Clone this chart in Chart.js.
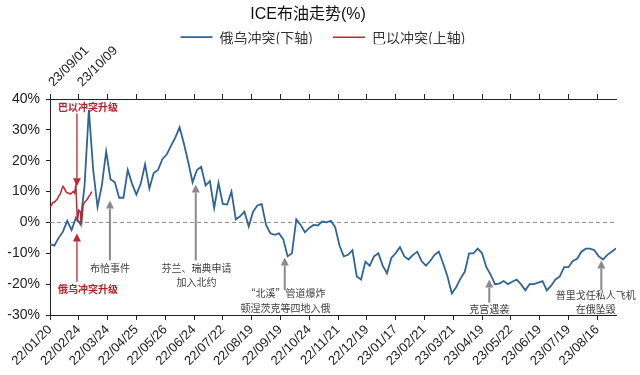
<!DOCTYPE html>
<html>
<head>
<meta charset="utf-8">
<script src="https://cdn.jsdelivr.net/npm/chart.js@4.4.1/dist/chart.umd.min.js"></script>
<style>
  html, body { margin: 0; padding: 0; background: #fff; }
  #wrap { width: 640px; height: 375px; }
</style>
</head>
<body>
<div id="wrap"><canvas id="oilChart"></canvas></div>
<script>
// 底部刻度：俄乌冲突时间轴，每20个交易日一格
const bottomLabels = ['22/01/20', '22/02/24', '22/03/24', '22/04/25', '22/05/26', '22/06/24', '22/07/22',
  '22/08/19', '22/09/19', '22/10/24', '22/11/21', '22/12/19', '23/01/17', '23/02/21', '23/03/21',
  '23/04/19', '23/05/22', '23/06/19', '23/07/19', '23/08/16'];
// 顶部刻度：巴以冲突时间轴
const topLabels = ['23/09/01', '23/10/09'];
const tickEvery = 20;
const lastIndex = 393;

// 俄乌冲突 ICE布油涨跌幅(%)，每3个交易日取一个点
const ruUaStep = 3;
const ruUaValues = [
  -7, -7.5, -5, -3, 0.5, -2.5, 1.5, -0.5, 12, 36.5,
  17, 5, 12, 23, 14, 13, 8, 8, 17, 12.5,
  9, 12.5, 18.8, 11, 16, 17, 20.5, 22, 24.8, 27.5,
  30.8, 25.5, 19.5, 13, 17, 18, 12, 13.4, 4.7, 12.8,
  6, 5.8, 10, 1, 2, 3.5, -1.3, 3.5, 5.5, 6,
  -0.8, -3.5, -4, -3.5, -5.5, -11, -10, 1, -0.8, -3.2,
  -1.8, -0.8, -1, 0.3, 0, 0.5, -1.5, -7.5, -11, -10.5,
  -9, -17.5, -18.5, -12.7, -14, -11, -10, -14, -16.5, -11.5,
  -10, -8, -11, -12, -10.5, -9.5, -12.5, -14, -12.5, -10.5,
  -9.5, -13.3, -17.5, -23, -21, -18.2, -16, -10, -10, -8.5,
  -10, -14.5, -17, -20, -19.8, -19, -20, -19.2, -18.5, -20,
  -22, -20, -20, -19.5, -19, -22, -20.5, -18.5, -17.5, -14.5,
  -14.5, -12.5, -11.8, -9.5, -8.5, -8.5, -9, -11, -12, -10.5,
  -9.5, -8.4
];

// 巴以冲突 ICE布油涨跌幅(%)，逐日
const ilPsValues = [
  5.1, 5.5, 6.5, 6.5, 7, 7.5, 8.5, 9, 10.5, 11.7,
  11, 10, 9.5, 9.5, 9.2, 9.5, 10, 9.5, 12, 0.2,
  4, 3.5, 0, 5.5, 6.5, 7, 7.5, 8.5, 9, 10
];

// 事件标注（x为交易日序号，y为%）
const notes = [
  { x: 18.7, tip: 11.7, tail: 35.3, color: '#c0272d', text: ['巴以冲突升级'], tx: 26.4, ty: [37.3], bold: true },
  { x: 18.7, tip: -3.6, tail: -19.2, color: '#c0272d', text: ['俄乌冲突升级'], tx: 26.4, ty: [-21.8], bold: true },
  { x: 41.6, tip: 7.1, tail: -12.3, color: '#8a8a8a', text: ['布恰事件'], tx: 41.6, ty: [-14.9] },
  { x: 101.2, tip: 12.3, tail: -12.3, color: '#8a8a8a', text: ['芬兰、瑞典申请', '加入北约'], tx: 101.8, ty: [-14.9, -19.5] },
  { x: 163, tip: -11.4, tail: -22, color: '#8a8a8a', text: ['“北溪”管道爆炸', '顿涅茨克等四地入俄'], tx: 163.5, ty: [-23, -27.9] },
  { x: 305, tip: -18.5, tail: -26, color: '#8a8a8a', text: ['克宫遇袭'], tx: 305, ty: [-28.2] },
  { x: 382.8, tip: -12.3, tail: -22, color: '#8a8a8a', text: ['普里戈任私人飞机', '在俄坠毁'], tx: 379, ty: [-23.7, -28.2] }
];

const latin = '"Liberation Sans", Arial, "Noto Sans CJK SC", sans-serif';
const cjk = '"Noto Sans CJK SC", "Liberation Sans", sans-serif';

// 0% 虚线
const zeroLine = {
  id: 'zeroLine',
  beforeDatasetsDraw(chart) {
    const { ctx, chartArea, scales } = chart;
    const y = scales.y.getPixelForValue(0);
    ctx.save();
    ctx.strokeStyle = '#8c8c8c';
    ctx.lineWidth = 1;
    ctx.setLineDash([4, 3]);
    ctx.beginPath();
    ctx.moveTo(chartArea.left, y);
    ctx.lineTo(chartArea.right, y);
    ctx.stroke();
    ctx.restore();
  }
};

// 图例整体右移一点，和原图对齐
const legendNudge = {
  id: 'legendNudge',
  afterLayout(chart) {
    chart.legend.left += 15;
    chart.legend.right += 15;
  }
};

// 箭头 + 文字
const eventNotes = {
  id: 'eventNotes',
  afterDatasetsDraw(chart) {
    const { ctx, scales } = chart;
    ctx.save();
    notes.forEach(n => {
      const x = scales.x.getPixelForValue(n.x);
      const yTip = scales.y.getPixelForValue(n.tip);
      const yTail = scales.y.getPixelForValue(n.tail);
      const dir = yTip < yTail ? 1 : -1; // 1 = 箭头朝上
      const head = 8;
      ctx.strokeStyle = n.color;
      ctx.fillStyle = n.color;
      ctx.lineWidth = n.bold ? 1.3 : 2;
      ctx.beginPath();
      ctx.moveTo(x, yTail);
      ctx.lineTo(x, yTip + dir * head);
      ctx.stroke();
      ctx.beginPath();
      ctx.moveTo(x, yTip);
      ctx.lineTo(x - 4, yTip + dir * head);
      ctx.lineTo(x + 4, yTip + dir * head);
      ctx.closePath();
      ctx.fill();

      ctx.font = (n.bold ? 'bold 10px ' : '10px ') + cjk;
      ctx.fillStyle = n.bold ? '#b3202a' : '#404040';
      ctx.textAlign = 'center';
      ctx.textBaseline = 'middle';
      const tx = scales.x.getPixelForValue(n.tx);
      n.text.forEach((t, k) => ctx.fillText(t, tx, scales.y.getPixelForValue(n.ty[k])));
    });
    ctx.restore();
  }
};

const tickList = bottomLabels.map((_, k) => ({ value: k * tickEvery }));

new Chart(document.getElementById('oilChart'), {
  type: 'line',
  data: {
    datasets: [{
      label: '俄乌冲突(下轴)',
      data: ruUaValues.map((v, k) => ({ x: k * ruUaStep, y: v })),
      borderColor: '#2f6596',
      backgroundColor: '#2f6596',
      borderWidth: 1.8,
      pointRadius: 0,
      xAxisID: 'x',
      order: 1
    }, {
      label: '巴以冲突(上轴)',
      data: ilPsValues.map((v, k) => ({ x: k, y: v })),
      borderColor: '#c0272d',
      backgroundColor: '#c0272d',
      borderWidth: 1.5,
      pointRadius: 0,
      xAxisID: 'x2',
      order: 0
    }]
  },
  options: {
    responsive: true,
    maintainAspectRatio: false,
    animation: false,
    layout: { padding: { top: 0, right: 24, bottom: 0, left: 0 } },
    plugins: {
      title: {
        display: true,
        text: 'ICE布油走势(%)',
        color: '#111',
        font: { family: latin, size: 16, weight: 'normal' },
        padding: { top: 5, bottom: -14 }
      },
      legend: {
        position: 'top',
        maxHeight: 34,
        labels: {
          usePointStyle: true,
          pointStyle: 'line',
          pointStyleWidth: 32,
          boxHeight: 12,
          padding: 20,
          color: '#333',
          font: { family: cjk, size: 14 },
          sort: (a, b) => a.datasetIndex - b.datasetIndex
        }
      },
      tooltip: { enabled: false }
    },
    scales: {
      x: {
        type: 'linear',
        position: 'bottom',
        min: 0,
        max: lastIndex,
        afterBuildTicks: s => { s.ticks = tickList.map(t => ({ ...t })); },
        afterFit: s => { s.height = 60; },
        grid: { drawOnChartArea: false, tickLength: 5, color: '#222' },
        border: { color: '#222' },
        ticks: {
          autoSkip: false,
          minRotation: 45,
          maxRotation: 45,
          padding: 2,
          color: '#222',
          font: { family: latin, size: 13 },
          callback: v => bottomLabels[Math.round(v / tickEvery)]
        }
      },
      x2: {
        type: 'linear',
        position: 'top',
        min: 0,
        max: lastIndex,
        afterBuildTicks: s => { s.ticks = tickList.map(t => ({ ...t })); },
        afterFit: s => { s.height = 99 - s.chart.titleBlock.height - s.chart.legend.height; },
        grid: { drawOnChartArea: false, tickLength: 5, color: '#222' },
        border: { color: '#222' },
        ticks: {
          autoSkip: false,
          minRotation: 45,
          maxRotation: 45,
          padding: 4,
          labelOffset: 12,
          color: '#222',
          font: { family: latin, size: 13 },
          callback: v => topLabels[Math.round(v / tickEvery)] || ''
        }
      },
      y: {
        min: -30,
        max: 40,
        afterFit: s => { s.width = 50; },
        grid: { drawOnChartArea: false, tickLength: 4, color: '#222' },
        border: { color: '#222' },
        ticks: {
          stepSize: 10,
          padding: 6,
          color: '#222',
          font: { family: latin, size: 14 },
          callback: v => v + '%'
        }
      }
    }
  },
  plugins: [zeroLine, legendNudge, eventNotes]
});
</script>
</body>
</html>
